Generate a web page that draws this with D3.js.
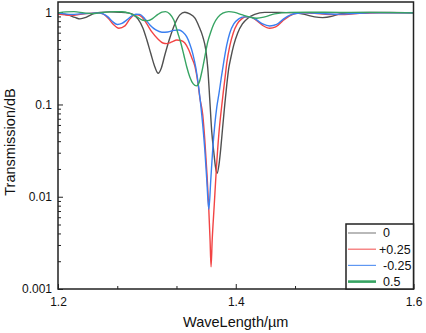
<!DOCTYPE html>
<html>
<head>
<meta charset="utf-8">
<script src="https://cdn.jsdelivr.net/npm/d3@7"></script>
<style>
  html, body { margin: 0; padding: 0; background: #fff; }
  svg { display: block; font-family: "Liberation Sans", Arial, sans-serif; }
</style>
</head>
<body>
<svg id="chart" width="426" height="333"></svg>
<script>
// series names as shown in the legend
const seriesNames = ['0', '+0.25', '-0.25', '0.5'];

// [wavelength (µm), transmission]
const curveZero = [
  [1.200, 0.971], [1.2112, 0.935], [1.2191, 0.878], [1.2247, 0.846], [1.2315, 0.878],
  [1.2393, 0.958], [1.2472, 0.995], [1.2584, 1.007], [1.2697, 1.0], [1.2787, 0.983],
  [1.2843, 0.946], [1.2899, 0.846], [1.2955, 0.676], [1.3000, 0.500], [1.3045, 0.354],
  [1.3090, 0.255], [1.3127, 0.218], [1.3163, 0.249], [1.3202, 0.344], [1.3258, 0.526],
  [1.3315, 0.746], [1.3371, 0.935], [1.3427, 1.0], [1.3483, 0.958], [1.3539, 0.867],
  [1.3584, 0.710], [1.3629, 0.544], [1.3663, 0.390], [1.3685, 0.249], [1.3708, 0.112],
  [1.3730, 0.0506], [1.3753, 0.0305], [1.3772, 0.0210], [1.3790, 0.0179], [1.3811, 0.0221],
  [1.3832, 0.0338], [1.3852, 0.0556], [1.3876, 0.0988], [1.3899, 0.163], [1.3922, 0.249],
  [1.3944, 0.319], [1.3978, 0.442], [1.4022, 0.596], [1.4075, 0.746], [1.4140, 0.867],
  [1.4213, 0.946], [1.4326, 0.995], [1.4494, 0.995], [1.4663, 0.983], [1.4775, 0.946],
  [1.4888, 0.889], [1.4978, 0.874], [1.5079, 0.900], [1.5169, 0.958], [1.5281, 0.988],
  [1.5506, 0.995], [1.5730, 0.995], [1.6, 0.983]
];

const curvePlus = [
  [1.200, 0.958], [1.2079, 0.935], [1.2157, 0.923], [1.2247, 0.946], [1.2360, 0.971],
  [1.2449, 0.983], [1.2506, 0.958], [1.2562, 0.867], [1.2618, 0.746], [1.2685, 0.670],
  [1.2753, 0.710], [1.2809, 0.846], [1.2854, 0.923], [1.2893, 0.935], [1.2944, 0.889],
  [1.3000, 0.746], [1.3056, 0.611], [1.3124, 0.513], [1.3180, 0.464], [1.3225, 0.456],
  [1.3281, 0.476], [1.3337, 0.500], [1.3382, 0.494], [1.3427, 0.464], [1.3472, 0.390],
  [1.3506, 0.319], [1.3539, 0.262], [1.3573, 0.175], [1.3596, 0.118], [1.3629, 0.0767],
  [1.3652, 0.0412], [1.3678, 0.0165], [1.3697, 0.00717], [1.3711, 0.00339], [1.3722, 0.00174],
  [1.3735, 0.00339], [1.3758, 0.00813], [1.3781, 0.0195], [1.3809, 0.0467], [1.3837, 0.0872],
  [1.3860, 0.137], [1.3882, 0.204], [1.3899, 0.282], [1.3933, 0.431], [1.3972, 0.596],
  [1.4017, 0.746], [1.4067, 0.846], [1.4112, 0.889], [1.4162, 0.889], [1.4225, 0.825],
  [1.4303, 0.719], [1.4382, 0.670], [1.4449, 0.693], [1.4528, 0.805], [1.4607, 0.912],
  [1.4685, 0.971], [1.4775, 0.983], [1.4888, 0.971], [1.5056, 0.946], [1.5225, 0.946],
  [1.5393, 0.971], [1.5618, 0.988], [1.6, 0.983]
];

const curveMinus = [
  [1.200, 0.983], [1.2079, 0.958], [1.2157, 0.946], [1.2247, 0.958], [1.2360, 0.971],
  [1.2449, 0.983], [1.2506, 0.958], [1.2562, 0.889], [1.2618, 0.785], [1.2669, 0.737],
  [1.2719, 0.756], [1.2775, 0.825], [1.2831, 0.912], [1.2876, 0.951], [1.2921, 0.946],
  [1.2978, 0.846], [1.3034, 0.728], [1.3101, 0.642], [1.3169, 0.607], [1.3236, 0.611],
  [1.3303, 0.635], [1.3360, 0.642], [1.3404, 0.611], [1.3449, 0.540], [1.3483, 0.453],
  [1.3517, 0.354], [1.3551, 0.249], [1.3584, 0.151], [1.3618, 0.0767], [1.3652, 0.0321],
  [1.3674, 0.0152], [1.3697, 0.0073], [1.3719, 0.0152], [1.3742, 0.0338], [1.3764, 0.0600],
  [1.3787, 0.0940], [1.3812, 0.133], [1.3837, 0.194], [1.3865, 0.289], [1.3899, 0.442],
  [1.3933, 0.596], [1.3978, 0.746], [1.4034, 0.846], [1.4090, 0.889], [1.4157, 0.889],
  [1.4225, 0.835], [1.4303, 0.746], [1.4382, 0.710], [1.4461, 0.737], [1.4539, 0.846],
  [1.4618, 0.935], [1.4697, 0.975], [1.4775, 0.983], [1.4944, 0.971], [1.5112, 0.951],
  [1.5281, 0.963], [1.5506, 0.988], [1.6, 0.983]
];

const curveHalf = [
  [1.200, 0.983], [1.2090, 1.007], [1.2180, 1.015], [1.2292, 0.983], [1.2382, 0.965],
  [1.2461, 0.983], [1.2539, 1.002], [1.2640, 1.015], [1.2719, 1.012], [1.2809, 0.971],
  [1.2888, 0.889], [1.2955, 0.819], [1.3011, 0.811], [1.3067, 0.857], [1.3124, 0.946],
  [1.3169, 1.0], [1.3210, 1.015], [1.3258, 0.958], [1.3303, 0.825], [1.3348, 0.596],
  [1.3382, 0.464], [1.3416, 0.344], [1.3449, 0.255], [1.3483, 0.199], [1.3522, 0.167],
  [1.3558, 0.159], [1.3590, 0.175], [1.3618, 0.225], [1.3652, 0.328], [1.3685, 0.476],
  [1.3719, 0.611], [1.3753, 0.746], [1.3798, 0.878], [1.3854, 0.975], [1.3921, 1.015],
  [1.3989, 0.995], [1.4067, 0.940], [1.4157, 0.885], [1.4236, 0.861], [1.4326, 0.889],
  [1.4438, 0.958], [1.4607, 0.995], [1.4831, 1.0], [1.5169, 0.995], [1.5506, 0.995],
  [1.6, 0.983]
];

const xMajorTicks = [1.2, 1.4, 1.6];
const xMinorTicks = [1.2667, 1.3333, 1.4667, 1.5333];
const yMajorTicks = [0.001, 0.01, 0.1, 1];
const yTickLabels = ['0.001', '0.01', '0.1', '1'];

const colors = ['#505050', '#f24444', '#3a7ff0', '#37a463'];
const legendColors = ['#8a8a8a', '#f46a6a', '#5e97f2', '#37a463'];

const svg = d3.select('#chart');
const plotLeft = 58, plotRight = 413.5, plotTop = 2, plotBottom = 289;

const x = d3.scaleLinear().domain([1.2, 1.6]).range([plotLeft, plotRight]);
const y = d3.scaleLog().domain([0.001, 1.29]).range([plotBottom, plotTop]);

svg.append('defs').append('clipPath').attr('id', 'plot-clip')
  .append('rect')
  .attr('x', plotLeft).attr('y', plotTop)
  .attr('width', plotRight - plotLeft).attr('height', plotBottom - plotTop);

// minor log ticks 2..9 of each decade
const yMinorTicks = [];
[0.001, 0.01, 0.1].forEach(dec => {
  for (let k = 2; k <= 9; k++) yMinorTicks.push(dec * k);
});

const styleAxis = g => {
  g.select('.domain').remove();
  g.selectAll('line').attr('stroke', '#222').attr('stroke-width', 1);
  g.selectAll('text').attr('fill', '#111').style('font-size', '12px')
    .style('font-family', '"Liberation Sans", Arial, sans-serif');
};

svg.append('g')
  .attr('transform', `translate(0,${plotBottom})`)
  .call(d3.axisBottom(x).tickValues(xMajorTicks).tickFormat(d3.format('.1f'))
    .tickSize(-5).tickPadding(8.5))
  .call(styleAxis);

svg.append('g')
  .attr('transform', `translate(0,${plotBottom})`)
  .call(d3.axisBottom(x).tickValues(xMinorTicks).tickFormat('').tickSize(-3))
  .call(styleAxis);

svg.append('g')
  .attr('transform', `translate(${plotLeft},0)`)
  .call(d3.axisLeft(y).tickValues(yMajorTicks)
    .tickFormat((d, i) => yTickLabels[i]).tickSize(-5).tickPadding(6))
  .call(styleAxis);

svg.append('g')
  .attr('transform', `translate(${plotLeft},0)`)
  .call(d3.axisLeft(y).tickValues(yMinorTicks).tickFormat('').tickSize(-3))
  .call(styleAxis);

// curves
const line = d3.line()
  .x(d => x(d[0]))
  .y(d => y(d[1]))
  .curve(d3.curveMonotoneX);

const curves = [curveZero, curvePlus, curveMinus, curveHalf];

svg.append('g')
  .attr('clip-path', 'url(#plot-clip)')
  .selectAll('path')
  .data(curves)
  .join('path')
  .attr('d', line)
  .attr('fill', 'none')
  .attr('stroke', (d, i) => colors[i])
  .attr('stroke-width', 1.4)
  .attr('stroke-linejoin', 'round');

// frame
svg.append('rect')
  .attr('x', plotLeft).attr('y', plotTop)
  .attr('width', plotRight - plotLeft).attr('height', plotBottom - plotTop)
  .attr('fill', 'none')
  .attr('stroke', '#222')
  .attr('stroke-width', 1.5);

// legend
const legendX = 346, legendY = 224;
const legend = svg.append('g').attr('transform', `translate(${legendX},${legendY})`);
legend.append('rect')
  .attr('width', plotRight - legendX).attr('height', plotBottom - legendY)
  .attr('fill', '#fff')
  .attr('stroke', '#222')
  .attr('stroke-width', 1.5);

const labelShift = [0, -4, 0, 0];
const rows = legend.selectAll('g.row')
  .data(seriesNames)
  .join('g')
  .attr('class', 'row')
  .attr('transform', (d, i) => `translate(0,${9 + i * 16.2})`);

rows.append('line')
  .attr('x1', 2).attr('x2', 30)
  .attr('stroke', (d, i) => legendColors[i])
  .attr('stroke-width', (d, i) => i === 3 ? 2.6 : 1.2);

rows.append('text')
  .attr('x', (d, i) => 37 + labelShift[i])
  .attr('dy', '0.35em')
  .style('font-size', '12.5px')
  .attr('fill', '#111')
  .text(d => d);

// axis titles
svg.append('text')
  .attr('x', (plotLeft + plotRight) / 2)
  .attr('y', 327)
  .attr('text-anchor', 'middle')
  .style('font-size', '14.5px')
  .attr('fill', '#111')
  .text('WaveLength/µm');

svg.append('text')
  .attr('transform', 'translate(15,142) rotate(-90)')
  .attr('text-anchor', 'middle')
  .style('font-size', '14.5px')
  .attr('fill', '#111')
  .text('Transmission/dB');
</script>
</body>
</html>
